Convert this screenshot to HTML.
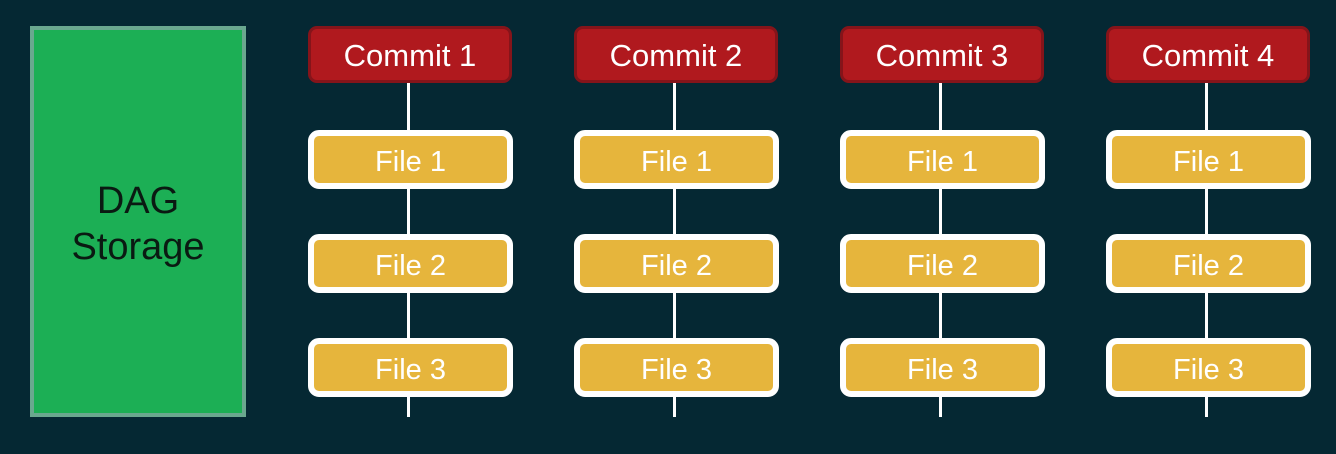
<!DOCTYPE html>
<html><head><style>
body{margin:0;width:1336px;height:454px;background:#052833;position:relative;overflow:hidden;font-family:"Liberation Sans",sans-serif}
.g{position:absolute;left:30px;top:26px;width:208px;height:379px;background:#1caf55;border:4px solid #6aa88f;display:flex;align-items:center;justify-content:center;text-align:center;color:#0a1a12;font-size:38px;line-height:46px;padding-top:4px;box-sizing:content-box}
.l{position:absolute;width:3px;background:#fff;top:83px;height:334px}
.c{position:absolute;top:26px;background:#b0191e;border:3px solid #85141a;border-radius:9px;color:#fff;font-size:31px;display:flex;align-items:center;justify-content:center;padding-top:3px;box-sizing:border-box;height:57px;width:204px}
.f{position:absolute;width:193px;height:47px;background:#e6b53c;border:6px solid #fff;border-radius:11px;color:#fff;font-size:29px;display:flex;align-items:center;justify-content:center;box-sizing:content-box;padding-top:0}
.f span{position:relative;top:3px}
</style></head><body>
<div class="g">DAG<br>Storage</div>
<div class="l" style="left:407px"></div><div class="l" style="left:673px"></div><div class="l" style="left:939px"></div><div class="l" style="left:1205px"></div>
<div class="c" style="left:308px">Commit 1</div>
<div class="c" style="left:574px">Commit 2</div>
<div class="c" style="left:840px">Commit 3</div>
<div class="c" style="left:1106px">Commit 4</div>
<div class="f" style="left:308px;top:130px"><span>File 1</span></div><div class="f" style="left:308px;top:234px"><span>File 2</span></div><div class="f" style="left:308px;top:338px"><span>File 3</span></div>
<div class="f" style="left:574px;top:130px"><span>File 1</span></div><div class="f" style="left:574px;top:234px"><span>File 2</span></div><div class="f" style="left:574px;top:338px"><span>File 3</span></div>
<div class="f" style="left:840px;top:130px"><span>File 1</span></div><div class="f" style="left:840px;top:234px"><span>File 2</span></div><div class="f" style="left:840px;top:338px"><span>File 3</span></div>
<div class="f" style="left:1106px;top:130px"><span>File 1</span></div><div class="f" style="left:1106px;top:234px"><span>File 2</span></div><div class="f" style="left:1106px;top:338px"><span>File 3</span></div>
</body></html>
